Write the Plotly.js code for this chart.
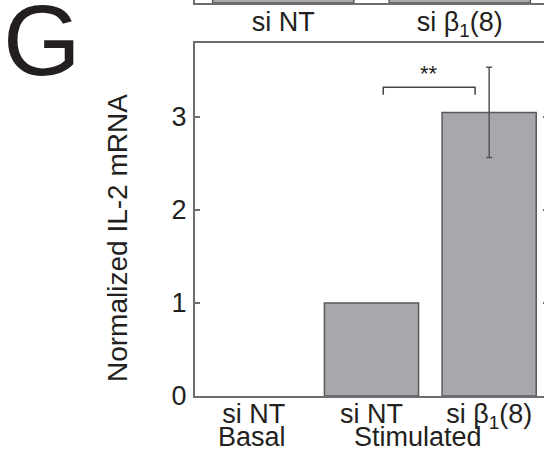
<!DOCTYPE html>
<html>
<head>
<meta charset="utf-8">
<script src="https://cdn.plot.ly/plotly-3.0.1.min.js"></script>
<style>
html,body{margin:0;padding:0;overflow:hidden;background:#fff;}
#chart{width:550px;height:454px;}
</style>
</head>
<body>
<div id="chart"></div>
<script>
// Main panel (G)
const categories = ['siNT_basal', 'siNT_stim', 'siB1_stim'];
const tickLabels = ['si NT', 'si NT', 'si β<sub>1</sub>(8)'];
const values = [0, 1.0, 3.05];
const errors = [null, null, 0.485];
const yTicks = [0, 1, 2, 3];
const groupLabels = ['Basal', 'Stimulated'];

// Remnant of the panel above (cropped)
const topCategories = ['si NT', 'si β1(8)'];
const topTickLabels = ['si NT', 'si β<sub>1</sub>(8)'];
const topValues = [1.0, 0.4];

const FONT = 'Liberation Sans, Arial, Helvetica, sans-serif';
const TXT = '#231f20';
const AX = '#6d6e71';
const BAR = '#a7a8ab';
const EDGE = '#58595b';

const errIdx = errors.map((e, i) => e == null ? -1 : i).filter(i => i >= 0);

const traces = [
  {
    type: 'bar', x: categories, y: values,
    xaxis: 'x', yaxis: 'y',
    marker: {color: BAR, line: {color: EDGE, width: values.map(v => v > 0 ? 1.5 : 0)}},
    hoverinfo: 'skip'
  },
  {
    type: 'scatter', mode: 'markers',
    x: errIdx.map(i => categories[i]), y: errIdx.map(i => values[i]),
    xaxis: 'x', yaxis: 'y',
    marker: {size: 1, color: 'rgba(0,0,0,0)'},
    error_y: {type: 'data', array: errIdx.map(i => errors[i]), visible: true, color: '#555', thickness: 1.5, width: 3},
    hoverinfo: 'skip', cliponaxis: false
  },
  {
    type: 'bar', x: topCategories, y: topValues,
    xaxis: 'x2', yaxis: 'y2',
    marker: {color: BAR, line: {color: EDGE, width: 1.5}},
    hoverinfo: 'skip'
  }
];

const layout = {
  width: 550, height: 454,
  margin: {l: 195, r: 2, t: 0, b: 58},
  paper_bgcolor: '#fff', plot_bgcolor: '#fff',
  showlegend: false,
  bargap: 0.2,
  font: {family: FONT, color: TXT},
  xaxis: {
    domain: [0, 1], anchor: 'y', type: 'category',
    categoryorder: 'array', categoryarray: categories,
    range: [-0.5, 2.5],
    tickvals: categories, ticktext: tickLabels,
    tickfont: {size: 27, color: TXT},
    ticks: '', showline: true, mirror: true, linecolor: AX, linewidth: 2,
    showgrid: false, zeroline: false, ticklabelstandoff: -7
  },
  yaxis: {
    domain: [0, 0.8914], anchor: 'x',
    range: [0, 3.796],
    tickvals: yTicks,
    tickfont: {size: 27, color: TXT},
    ticks: 'inside', ticklen: 5, tickwidth: 1.5, tickcolor: AX,
    showline: true, mirror: 'ticks', linecolor: AX, linewidth: 2,
    showgrid: false, zeroline: false, ticklabelstandoff: 1
  },
  xaxis2: {
    domain: [0, 1], anchor: 'y2', type: 'category',
    categoryorder: 'array', categoryarray: topCategories,
    range: [-0.5, 1.5],
    tickvals: topCategories, ticktext: topTickLabels,
    tickfont: {size: 27, color: TXT},
    ticks: '', showline: true, linecolor: AX, linewidth: 2,
    showgrid: false, zeroline: false, ticklabelstandoff: -6
  },
  yaxis2: {
    domain: [0.9924, 1], anchor: 'x2',
    range: [0, 0.05],
    tickvals: [0],
    tickfont: {size: 27, color: TXT},
    ticks: 'inside', ticklen: 5, tickcolor: AX,
    showline: true, linecolor: AX, linewidth: 2,
    showgrid: false, zeroline: false, ticklabelstandoff: 1
  },
  shapes: [
    {type: 'path', xref: 'x', yref: 'y',
     path: 'M 1.1,3.24 L 1.1,3.32 L 1.88,3.32 L 1.88,3.24',
     line: {color: '#444', width: 1.5}}
  ],
  annotations: [
    {text: '**', xref: 'x', yref: 'y', x: 1.49, y: 3.31, yanchor: 'bottom',
     showarrow: false, font: {size: 22, color: TXT}},
    {text: 'Normalized IL-2 mRNA', xref: 'paper', yref: 'paper',
     x: (117 - 195) / 353, y: (396 - 238) / 396, textangle: -90,
     xanchor: 'center', yanchor: 'middle', showarrow: false,
     font: {size: 28, color: TXT}},
    {text: groupLabels[0], xref: 'paper', yref: 'paper',
     x: (252 - 195) / 353, y: (396 - 437) / 396,
     xanchor: 'center', yanchor: 'middle', showarrow: false,
     font: {size: 27, color: TXT}},
    {text: groupLabels[1], xref: 'paper', yref: 'paper',
     x: (418 - 195) / 353, y: (396 - 437) / 396,
     xanchor: 'center', yanchor: 'middle', showarrow: false,
     font: {size: 27, color: TXT}},
    {text: 'G', xref: 'paper', yref: 'paper',
     x: (42 - 195) / 353, y: (396 - 40) / 396,
     xanchor: 'center', yanchor: 'middle', showarrow: false,
     font: {size: 100, color: TXT}}
  ]
};

Plotly.newPlot('chart', traces, layout, {staticPlot: true, displayModeBar: false});
</script>
</body>
</html>
